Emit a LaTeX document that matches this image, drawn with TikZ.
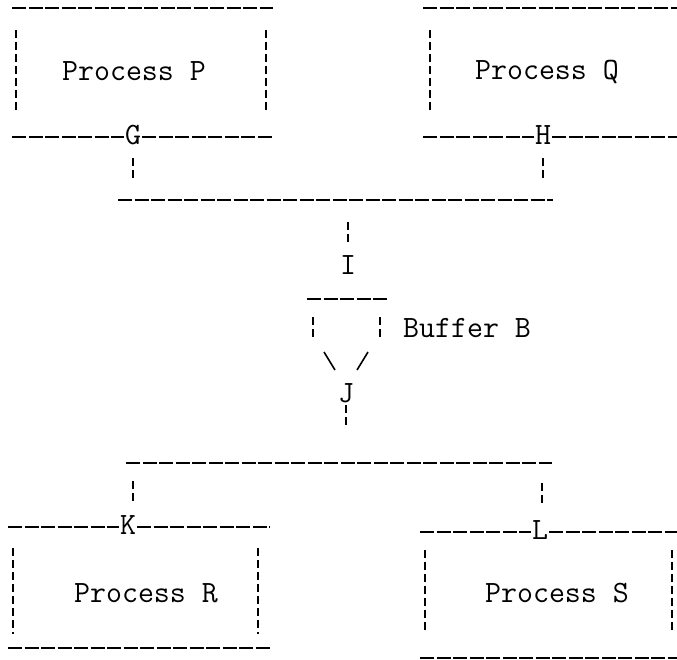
\documentclass[tikz,border=0pt]{standalone}

\begin{document}
\begin{tikzpicture}[x=1pt,y=-1pt,
  every node/.style={font=\ttfamily\fontsize{31}{36}\selectfont, inner sep=1pt},
  hline/.style={line width=2.6pt, dash pattern=on 14pt off 2.5pt},
  vline/.style={line width=1.3pt, dash pattern=on 8pt off 4pt},
  slant/.style={line width=1.6pt}]
\useasboundingbox (0,0) rectangle (677,659);
% Process P
\draw[hline] (12,8) -- (273,8);
\draw[vline] (16,30) -- (16,113);
\draw[vline] (266,30) -- (266,113);
\node (procP) at (134,71) {Process P};
\node (G) at (133,135) {G};
\draw[hline] (12,137) -- (G.west |- 0,137);
\draw[hline] (G.east |- 0,137) -- (273,137);
\draw[vline] (G.south |- 0,158) -- (G.south |- 0,180);
% Process Q
\draw[hline] (423,8) -- (677,8);
\draw[vline] (430,30) -- (430,113);
\node (procQ) at (547,72) {Process Q};
\node (H) at (543,135) {H};
\draw[hline] (423,137) -- (H.west |- 0,137);
\draw[hline] (H.east |- 0,137) -- (677,137);
\draw[vline] (H.south |- 0,158) -- (H.south |- 0,180);
% bus P,Q
\draw[hline] (118,200) -- (553,200);
% Buffer B
\node (I) at (348,265) {I};
\draw[vline] (I.north |- 0,222) -- (I.north |- 0,245);
\draw[hline] (307,299) -- (387,299);
\draw[vline] (313,317) -- (313,340);
\draw[vline] (380,317) -- (380,340);
\draw[slant] (324,352) -- (335,370);
\draw[slant] (368,352) -- (357,370);
\node[anchor=west] (buf) at (402,328) {Buffer B};
\node (J) at (346,393) {J};
\draw[vline] (J.south |- 0,405) -- (J.south |- 0,425);
% bus R,S
\draw[hline] (126,463) -- (552,463);
\draw[vline] (133,481) -- (133,504);
\draw[vline] (542,483) -- (542,504);
% Process R
\node (K) at (128,525) {K};
\draw[hline] (8,527) -- (K.west |- 0,527);
\draw[hline] (K.east |- 0,527) -- (270,527);
\draw[vline] (13,548) -- (13,634);
\draw[vline] (258,548) -- (258,634);
\node (procR) at (146,593) {Process R};
\draw[hline] (8,648) -- (270,648);
% Process S
\node (L) at (540,530) {L};
\draw[hline] (420,532) -- (L.west |- 0,532);
\draw[hline] (L.east |- 0,532) -- (677,532);
\draw[vline] (425,550) -- (425,633);
\draw[vline] (672,550) -- (672,633);
\node (procS) at (557,593) {Process S};
\draw[hline] (420,658) -- (677,658);
\end{tikzpicture}
\end{document}
